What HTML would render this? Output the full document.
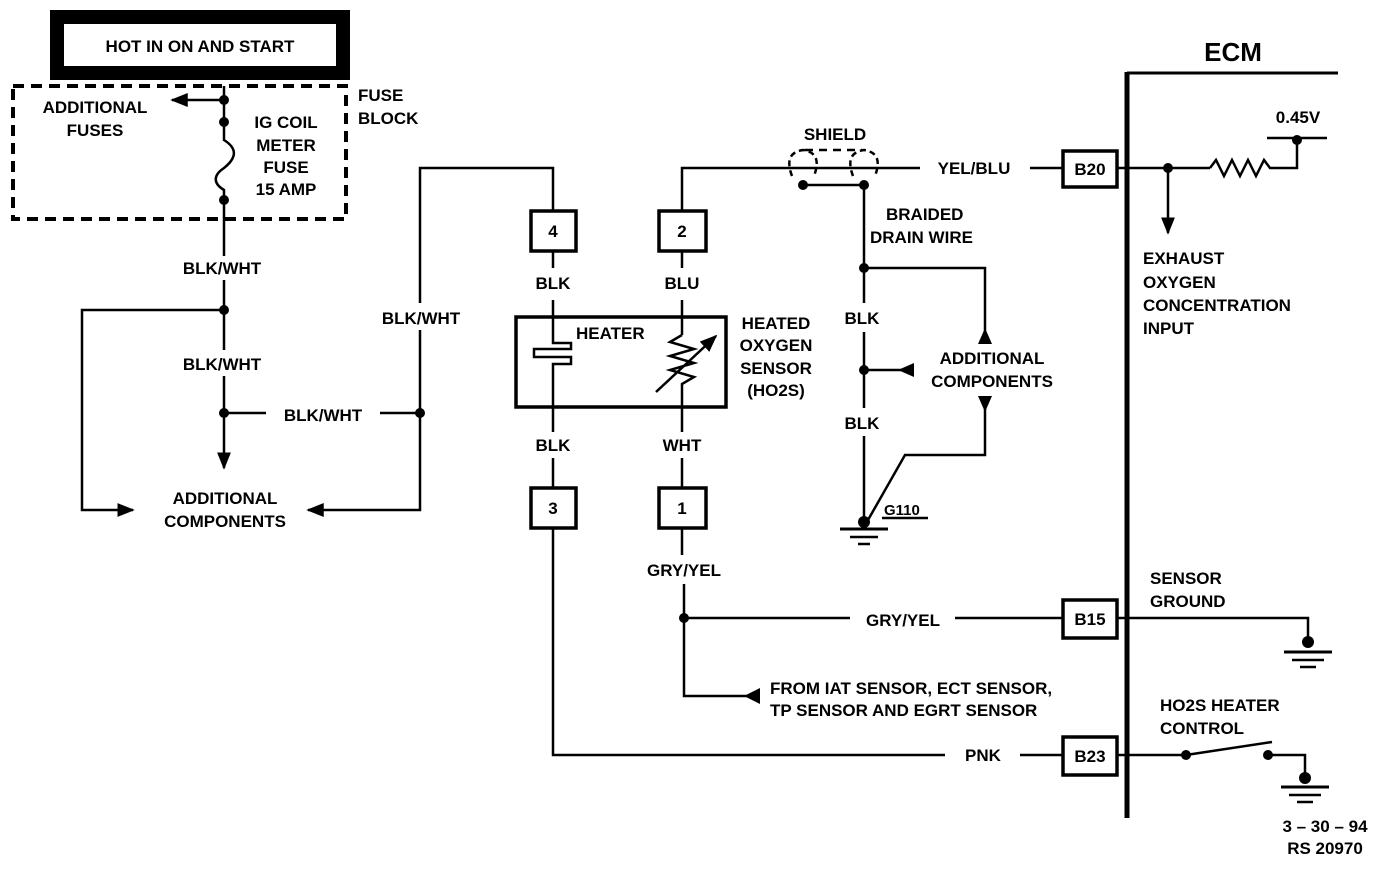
<!DOCTYPE html>
<html><head><meta charset="utf-8"><style>
html,body{margin:0;padding:0;background:#fff}
svg{display:block}
text{font-family:"Liberation Sans",Arial,sans-serif;font-weight:bold;font-size:17px;fill:#000}
</style></head><body>
<svg width="1392" height="874" viewBox="0 0 1392 874" xmlns="http://www.w3.org/2000/svg">
<defs>
<marker id="a" viewBox="0 0 10 10" refX="9" refY="5" markerWidth="7" markerHeight="7" orient="auto"><path d="M0,1 L10,5 L0,9 z" fill="#000"/></marker>
</defs>
<g stroke="#000" stroke-width="2.5" fill="none">
<rect x="57" y="17" width="286" height="56" stroke-width="14"/>
<rect x="13" y="86" width="333" height="133" stroke-width="4" stroke-dasharray="11,7"/>
<line x1="224" y1="86" x2="224" y2="122"/>
<line x1="224" y1="100" x2="172" y2="100" marker-end="url(#a)"/>
<path d="M224,122 L224,140 C240,150 234,160 224,168 C212,176 214,184 224,190 L224,200"/>
<line x1="224" y1="200" x2="224" y2="256"/>
<line x1="224" y1="280" x2="224" y2="350"/>
<line x1="224" y1="376" x2="224" y2="468" marker-end="url(#a)"/>
<polyline points="224,310 82,310 82,510 133,510" marker-end="url(#a)"/>
<line x1="224" y1="413" x2="266" y2="413"/>
<line x1="380" y1="413" x2="420" y2="413"/>
<polyline points="420,303 420,168 553,168 553,210"/>
<polyline points="420,330 420,510 308,510" marker-end="url(#a)"/>
<rect x="531" y="211" width="45" height="40" stroke-width="3.5"/>
<rect x="659" y="211" width="47" height="40" stroke-width="3.5"/>
<rect x="531" y="488" width="45" height="40" stroke-width="3.5"/>
<rect x="659" y="488" width="47" height="40" stroke-width="3.5"/>
<line x1="553" y1="251" x2="553" y2="268"/>
<line x1="682" y1="251" x2="682" y2="268"/>
<rect x="516" y="317" width="210" height="90" stroke-width="3.5"/>
<polyline points="553,300 553,343 571,343 571,349 534,349 534,357 571,357 571,364 553,364 553,432"/>
<line x1="682" y1="300" x2="682" y2="335"/>
<path d="M682,335 L670,342 L694,349 L670,356 L694,363 L670,370 L694,377 L682,384 L682,432"/>
<line x1="656" y1="392" x2="716" y2="336" marker-end="url(#a)"/>
<line x1="553" y1="458" x2="553" y2="488"/>
<line x1="682" y1="458" x2="682" y2="488"/>
<polyline points="553,528 553,755 945,755"/>
<line x1="1020" y1="755" x2="1062" y2="755"/>
<line x1="682" y1="528" x2="682" y2="555"/>
<polyline points="684,584 684,696 752,696"/>
<line x1="684" y1="618" x2="850" y2="618"/>
<line x1="955" y1="618" x2="1062" y2="618"/>
<polyline points="682,211 682,168 920,168"/>
<line x1="1030" y1="168" x2="1062" y2="168"/>
<path d="M792,176 C786,160 790,152 803,150 C816,152 820,160 814,176" stroke-dasharray="6,4"/>
<path d="M853,176 C847,160 851,152 864,150 C877,152 881,160 875,176" stroke-dasharray="6,4"/>
<line x1="805" y1="150" x2="862" y2="150" stroke-dasharray="8,6"/>
<line x1="803" y1="185" x2="864" y2="185"/>
<line x1="864" y1="185" x2="864" y2="303"/>
<line x1="864" y1="332" x2="864" y2="408"/>
<line x1="864" y1="436" x2="864" y2="522"/>
<polyline points="864,268 985,268 985,335"/>
<line x1="864" y1="370" x2="905" y2="370"/>
<polyline points="985,398 985,455 905,455 868,520" />
<line x1="840" y1="529" x2="888" y2="529" stroke-width="3"/>
<line x1="850" y1="537" x2="878" y2="537"/>
<line x1="858" y1="544" x2="870" y2="544"/>
<line x1="882" y1="518" x2="928" y2="518"/>
<rect x="1063" y="151" width="54" height="36" stroke-width="3.5"/>
<rect x="1063" y="600" width="54" height="38" stroke-width="3.5"/>
<rect x="1063" y="737" width="54" height="38" stroke-width="3.5"/>
<line x1="1127" y1="72" x2="1127" y2="818" stroke-width="5"/>
<line x1="1127" y1="73" x2="1338" y2="73" stroke-width="3"/>
<line x1="1118" y1="168" x2="1210" y2="168"/>
<line x1="1168" y1="168" x2="1168" y2="233" marker-end="url(#a)"/>
<path d="M1210,168 L1216,160 L1224,176 L1232,160 L1240,176 L1248,160 L1256,176 L1264,160 L1270,168 L1297,168 L1297,140"/>
<line x1="1267" y1="138" x2="1327" y2="138"/>
<polyline points="1118,618 1308,618 1308,642"/>
<line x1="1284" y1="652" x2="1332" y2="652" stroke-width="3"/>
<line x1="1292" y1="660" x2="1324" y2="660"/>
<line x1="1300" y1="667" x2="1316" y2="667"/>
<line x1="1118" y1="755" x2="1186" y2="755"/>
<line x1="1186" y1="755" x2="1272" y2="742"/>
<polyline points="1268,755 1305,755 1305,780"/>
<line x1="1281" y1="787" x2="1329" y2="787" stroke-width="3"/>
<line x1="1289" y1="795" x2="1321" y2="795"/>
<line x1="1297" y1="802" x2="1313" y2="802"/>
</g>
<g fill="#000">
<circle cx="224" cy="100" r="5"/><circle cx="224" cy="122" r="5"/><circle cx="224" cy="200" r="5"/>
<circle cx="224" cy="310" r="5"/><circle cx="224" cy="413" r="5"/><circle cx="420" cy="413" r="5"/>
<circle cx="803" cy="185" r="5"/><circle cx="864" cy="185" r="5"/><circle cx="864" cy="268" r="5"/><circle cx="864" cy="370" r="5"/>
<circle cx="864" cy="522" r="6"/><circle cx="684" cy="618" r="5"/>
<circle cx="1168" cy="168" r="5"/><circle cx="1297" cy="140" r="5"/><circle cx="1308" cy="642" r="6"/>
<circle cx="1186" cy="755" r="5"/><circle cx="1268" cy="755" r="5"/><circle cx="1305" cy="778" r="6"/>
<path d="M985,328 L978,344 L992,344 z"/>
<path d="M898,370 L914,363 L914,377 z"/>
<path d="M985,412 L978,396 L992,396 z"/>
<path d="M744,696 L760,688 L760,704 z"/>
</g>
<g text-anchor="middle">
<text x="200" y="52">HOT IN ON AND START</text>
<text x="95" y="113">ADDITIONAL</text><text x="95" y="136">FUSES</text>
<text x="286" y="128">IG COIL</text><text x="286" y="151">METER</text><text x="286" y="173">FUSE</text><text x="286" y="195">15 AMP</text>
<text x="222" y="274">BLK/WHT</text><text x="222" y="370">BLK/WHT</text><text x="323" y="421">BLK/WHT</text>
<text x="421" y="324">BLK/WHT</text>
<text x="225" y="504">ADDITIONAL</text><text x="225" y="527">COMPONENTS</text>
<text x="553" y="237">4</text><text x="682" y="237">2</text><text x="553" y="514">3</text><text x="682" y="514">1</text>
<text x="553" y="289">BLK</text><text x="682" y="289">BLU</text><text x="553" y="451">BLK</text><text x="682" y="451">WHT</text>
<text x="684" y="576">GRY/YEL</text><text x="903" y="626">GRY/YEL</text>
<text x="983" y="761">PNK</text><text x="974" y="174">YEL/BLU</text>
<text x="835" y="140">SHIELD</text>
<text x="862" y="324">BLK</text><text x="862" y="429">BLK</text>
<text x="992" y="364">ADDITIONAL</text><text x="992" y="387">COMPONENTS</text>
<text x="1090" y="175">B20</text><text x="1090" y="625">B15</text><text x="1090" y="762">B23</text>
<text x="1298" y="123">0.45V</text>
<text x="1325" y="832">3 – 30 – 94</text><text x="1325" y="854">RS 20970</text>
<text x="776" y="329">HEATED</text><text x="776" y="351">OXYGEN</text><text x="776" y="374">SENSOR</text><text x="776" y="396">(HO2S)</text>
</g>
<text x="358" y="101">FUSE</text><text x="358" y="124">BLOCK</text>
<text x="576" y="339">HEATER</text>
<text x="886" y="220">BRAIDED</text><text x="870" y="243">DRAIN WIRE</text>
<text x="884" y="515" style="font-size:15px">G110</text>
<text x="770" y="694">FROM IAT SENSOR, ECT SENSOR,</text><text x="770" y="716">TP SENSOR AND EGRT SENSOR</text>
<text x="1233" y="61" text-anchor="middle" style="font-size:26px">ECM</text>
<text x="1143" y="264">EXHAUST</text><text x="1143" y="288">OXYGEN</text><text x="1143" y="311">CONCENTRATION</text><text x="1143" y="334">INPUT</text>
<text x="1150" y="584">SENSOR</text><text x="1150" y="607">GROUND</text>
<text x="1160" y="711">HO2S HEATER</text><text x="1160" y="734">CONTROL</text>
</svg>
</body></html>
